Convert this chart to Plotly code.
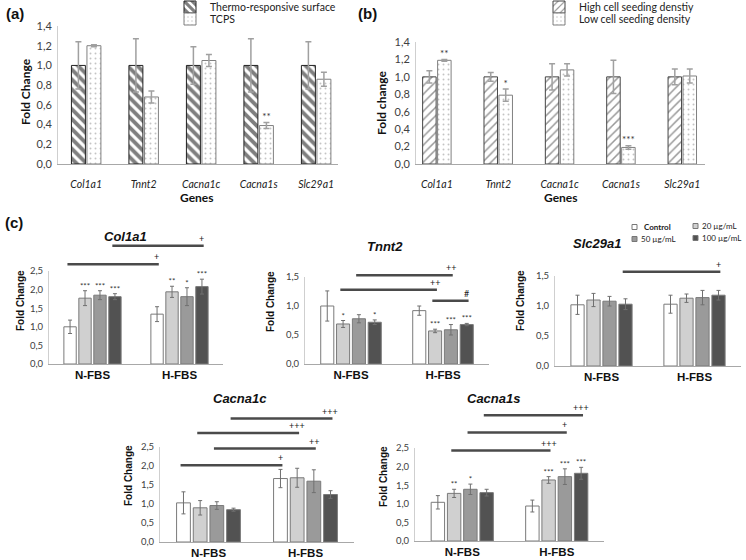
import plotly.graph_objects as go

W, H = 746, 560

# ---------------- data: panel (a) ----------------
genes = ["Col1a1", "Tnnt2", "Cacna1c", "Cacna1s", "Slc29a1"]
a_thermo = [1.00, 1.00, 1.00, 1.00, 1.00]
a_thermo_err = [0.24, 0.27, 0.19, 0.27, 0.24]
a_tcps = [1.20, 0.68, 1.05, 0.39, 0.86]
a_tcps_err = [0.01, 0.06, 0.06, 0.03, 0.07]
a_tcps_sig = ["", "", "", "**", ""]

# ---------------- data: panel (b) ----------------
b_high = [1.00, 1.00, 1.00, 1.00, 1.00]
b_high_err = [0.07, 0.05, 0.15, 0.19, 0.09]
b_low = [1.19, 0.79, 1.08, 0.19, 1.01]
b_low_err = [0.01, 0.07, 0.07, 0.02, 0.08]
b_low_sig = ["**", "*", "", "***", ""]
ab_yticks = [0.0, 0.2, 0.4, 0.6, 0.8, 1.0, 1.2, 1.4]

# ---------------- data: panel (c) ----------------
conditions = ["N-FBS", "H-FBS"]
doses = ["Control", "20 µg/mL", "50 µg/mL", "100 µg/mL"]
c_yticks_25 = [0.0, 0.5, 1.0, 1.5, 2.0, 2.5]
c_yticks_15 = [0.0, 0.5, 1.0, 1.5]

# rows = doses, columns = conditions (N-FBS, H-FBS)
col1a1_mean = [[1.00, 1.34], [1.77, 1.94], [1.85, 1.81], [1.81, 2.08]]
col1a1_err = [[0.18, 0.20], [0.20, 0.15], [0.12, 0.24], [0.08, 0.20]]
col1a1_sig = [["", ""], ["***", "**"], ["***", "*"], ["***", "***"]]
col1a1_lines = [(0, 0, 1, 0, 2.68, "+"), (0, 3, 1, 3, 3.18, "+")]

tnnt2_mean = [[1.00, 0.92], [0.69, 0.57], [0.78, 0.59], [0.72, 0.68]]
tnnt2_err = [[0.26, 0.08], [0.06, 0.03], [0.07, 0.09], [0.04, 0.02]]
tnnt2_sig = [["", ""], ["*", "***"], ["", "***"], ["*", "***"]]
tnnt2_lines = [(0, 1, 1, 1, 1.28, "++"), (0, 2, 1, 2, 1.53, "++"), (1, 1, 1, 3, 1.09, "#")]

slc29a1_mean = [[1.02, 1.03], [1.10, 1.13], [1.08, 1.14], [1.03, 1.18]]
slc29a1_err = [[0.16, 0.15], [0.11, 0.07], [0.08, 0.12], [0.09, 0.08]]
slc29a1_sig = [["", ""], ["", ""], ["", ""], ["", ""]]
slc29a1_lines = [(0, 3, 1, 3, 1.57, "+")]

cacna1c_mean = [[1.03, 1.67], [0.90, 1.69], [0.96, 1.60], [0.85, 1.25]]
cacna1c_err = [[0.29, 0.24], [0.19, 0.25], [0.10, 0.30], [0.04, 0.10]]
cacna1c_sig = [["", ""], ["", ""], ["", ""], ["", ""]]
cacna1c_lines = [(0, 0, 1, 0, 2.02, "+"), (0, 2, 1, 2, 2.46, "++"),
                 (0, 1, 1, 1, 2.87, "+++"), (0, 3, 1, 3, 3.25, "+++")]

cacna1s_mean = [[1.04, 0.94], [1.28, 1.64], [1.39, 1.73], [1.30, 1.82]]
cacna1s_err = [[0.18, 0.16], [0.11, 0.09], [0.14, 0.21], [0.09, 0.16]]
cacna1s_sig = [["", ""], ["**", "***"], ["*", "***"], ["", "***"]]
cacna1s_lines = [(0, 1, 1, 1, 2.43, "+++"), (0, 2, 1, 2, 2.92, "+"), (0, 3, 1, 3, 3.38, "+++")]

# ---------------- styling ----------------
dose_colors = ["#ffffff", "#d0d0d0", "#9a9a9a", "#525252"]
TICKF = "Lato, Carlito, sans-serif"
ARIAL = "Liberation Sans, Arial, sans-serif"

# panel geometry in pixels: x=(left,right), y=(top,bottom)
P = {
    "a": dict(n=1, xpx=(58, 338), ypx=(26, 164), xr=[-0.49, 4.38], yr=[0, 1.4]),
    "b": dict(n=2, xpx=(416, 705), ypx=(42, 164), xr=[-0.34, 4.37], yr=[0, 1.4]),
    "col1a1": dict(n=3, xpx=(49, 223), ypx=(271, 364), xr=[-0.5, 1.5], yr=[0, 2.5],
                   title="Col1a1", txy=(125, 236), fxy=(20, 301)),
    "tnnt2": dict(n=4, xpx=(305, 489), ypx=(277, 364), xr=[-0.5, 1.5], yr=[0, 1.5],
                  title="Tnnt2", txy=(385, 246), fxy=(270, 302)),
    "slc29a1": dict(n=5, xpx=(555, 741), ypx=(276, 366), xr=[-0.5, 1.5], yr=[0, 1.5],
                    title="Slc29a1", txy=(597, 243), fxy=(520, 301)),
    "cacna1c": dict(n=6, xpx=(160, 354), ypx=(447, 542), xr=[-0.5, 1.5], yr=[0, 2.5],
                    title="Cacna1c", txy=(240, 398), fxy=(128, 476)),
    "cacna1s": dict(n=7, xpx=(415, 604), ypx=(448, 541), xr=[-0.5, 1.5], yr=[0, 2.5],
                    title="Cacna1s", txy=(493, 398), fxy=(383, 477)),
}

# legend of panel (c): positions (px) of square for each dose
c_legend_pos = [(632, 227), (693, 226), (632, 239), (693, 238)]


def refs(p):
    n = p["n"]
    return ("x", "y") if n == 1 else (f"x{n}", f"y{n}")


def to_paper(p, x, y):
    l, r = p["xpx"]
    t, b = p["ypx"]
    x0, x1 = p["xr"]
    y0, y1 = p["yr"]
    px = l + (x - x0) / (x1 - x0) * (r - l)
    py = b - (y - y0) / (y1 - y0) * (b - t)
    return px / W, 1 - py / H


def pxp(px, py):
    return px / W, 1 - py / H


fig = go.Figure()


# ---------------- panel (a) & (b) ----------------
def two_bar_panel(p, vals1, err1, vals2, err2, sig2, names, styles, legends, s, w):
    xr_, yr_ = refs(p)
    for k, (vals, err, name, st, lg) in enumerate(zip([vals1, vals2], [err1, err2], names, styles, legends)):
        centre = (k - 0.5) * s
        fig.add_trace(go.Bar(
            x=list(range(len(genes))), y=vals, width=w, offset=centre - w / 2,
            name=name, legend=lg, xaxis=xr_, yaxis=yr_,
            marker=dict(color="white", line=dict(color=st["line"], width=1),
                        pattern=st["pattern"]),
            error_y=dict(type="data", array=err, color="#a0a0a0", thickness=1.5, width=3),
            hoverinfo="skip"))
    xs = [i + 0.5 * s for i in range(len(genes))]
    fig.add_trace(go.Scatter(
        x=xs, y=[v + e for v, e in zip(vals2, err2)], text=sig2, mode="text",
        textposition="top center", cliponaxis=False, showlegend=False,
        textfont=dict(size=10, color="#333", family=TICKF),
        xaxis=xr_, yaxis=yr_, hoverinfo="skip"))


hatch_a = dict(line="#222", pattern=dict(shape="\\", fgcolor="#000", bgcolor="white", size=7, solidity=0.55))
dots = dict(line="#808080", pattern=dict(shape=".", fgcolor="#8a8a8a", bgcolor="white", size=5, solidity=0.12))
hatch_b = dict(line="#444", pattern=dict(shape="/", fgcolor="#333", bgcolor="white", size=6, solidity=0.25))

two_bar_panel(P["a"], a_thermo, a_thermo_err, a_tcps, a_tcps_err, a_tcps_sig,
              ["Thermo-responsive surface", "TCPS"], [hatch_a, dots], ["legend", "legend2"], 0.27, 0.243)
two_bar_panel(P["b"], b_high, b_high_err, b_low, b_low_err, b_low_sig,
              ["High cell seeding denstiy", "Low cell seeding density"], [hatch_b, dots],
              ["legend3", "legend4"], 0.244, 0.22)

# ---------------- panel (c) ----------------
S_C, W_C = 0.172, 0.142
c_sets = [
    ("col1a1", col1a1_mean, col1a1_err, col1a1_sig, col1a1_lines),
    ("tnnt2", tnnt2_mean, tnnt2_err, tnnt2_sig, tnnt2_lines),
    ("slc29a1", slc29a1_mean, slc29a1_err, slc29a1_sig, slc29a1_lines),
    ("cacna1c", cacna1c_mean, cacna1c_err, cacna1c_sig, cacna1c_lines),
    ("cacna1s", cacna1s_mean, cacna1s_err, cacna1s_sig, cacna1s_lines),
]


def bar_centre(cond, dose):
    return cond + (dose - 1.5) * S_C


for key, mean, err, sig, lines in c_sets:
    p = P[key]
    xr_, yr_ = refs(p)
    for d in range(4):
        fig.add_trace(go.Bar(
            x=list(range(len(conditions))), y=mean[d], width=W_C,
            offset=(d - 1.5) * S_C - W_C / 2, name=doses[d], showlegend=False,
            xaxis=xr_, yaxis=yr_,
            marker=dict(color=dose_colors[d], line=dict(color="#7a7a7a", width=1)),
            error_y=dict(type="data", array=err[d], color="#707070", thickness=1, width=2),
            hoverinfo="skip"))
        fig.add_trace(go.Scatter(
            x=[bar_centre(c, d) for c in range(2)],
            y=[m + e for m, e in zip(mean[d], err[d])], text=sig[d], mode="text",
            textposition="top center", cliponaxis=False, showlegend=False,
            textfont=dict(size=8, color="#333", family=TICKF),
            xaxis=xr_, yaxis=yr_, hoverinfo="skip"))
    for ca, da, cb, db, yv, lab in lines:
        x0p, y0p = to_paper(p, bar_centre(ca, da) - 0.03, yv)
        x1p, _ = to_paper(p, bar_centre(cb, db) + 0.02, yv)
        fig.add_shape(type="line", xref="paper", yref="paper", x0=x0p, x1=x1p, y0=y0p, y1=y0p,
                      line=dict(color="#4a4a4a", width=2.5))
        fig.add_annotation(xref="paper", yref="paper", x=x1p - 2 / W, y=y0p, text=lab,
                           showarrow=False, xanchor="center", yanchor="bottom", yshift=0,
                           font=dict(size=9, color="#222222", family=TICKF))
    tx, ty = pxp(*p["txy"])
    fig.add_annotation(xref="paper", yref="paper", x=tx, y=ty, text=p["title"], showarrow=False,
                       xanchor="center", yanchor="middle",
                       font=dict(size=13, color="#111", family=ARIAL, weight="bold", style="italic"))
    fx, fy = pxp(*p["fxy"])
    fig.add_annotation(xref="paper", yref="paper", x=fx, y=fy, text="Fold Change", showarrow=False,
                       textangle=-90, xanchor="center", yanchor="middle",
                       font=dict(size=10, color="#111", family=ARIAL, weight="bold"))

# legend for panel (c): small squares + labels
for d, (lx, ly) in enumerate(c_legend_pos):
    x0, y0 = pxp(lx, ly + 2.5)
    x1, y1 = pxp(lx + 5, ly - 2.5)
    fig.add_shape(type="rect", xref="paper", yref="paper", x0=x0, x1=x1, y0=y0, y1=y1,
                  fillcolor=dose_colors[d], line=dict(color="#777", width=1))
    tx, ty = pxp(lx + (10 if d == 0 else 7), ly)
    fig.add_annotation(xref="paper", yref="paper", x=tx, y=ty, text=doses[d], showarrow=False,
                       xanchor="left", yanchor="middle",
                       font=dict(size=8, color="#222", family=TICKF,
                                 weight="bold" if d == 0 else "normal"))

# ---------------- axes ----------------
layout_axes = {}
for key, p in P.items():
    n = p["n"]
    sx = "xaxis" if n == 1 else f"xaxis{n}"
    sy = "yaxis" if n == 1 else f"yaxis{n}"
    yref_ = "y" if n == 1 else f"y{n}"
    xref_ = "x" if n == 1 else f"x{n}"
    l, r = p["xpx"]
    t, b = p["ypx"]
    if key in ("a", "b"):
        xt = dict(tickvals=list(range(len(genes))), ticktext=genes,
                  tickfont=dict(size=10.5, color="#222", family=TICKF, style="italic"),
                  ticklabelstandoff=10)
        yticks = ab_yticks
        yfont = dict(size=11, color="#404040", family=TICKF)
    else:
        xt = dict(tickvals=list(range(len(conditions))), ticktext=conditions,
                  tickfont=dict(size=11.5, color="#111", family=ARIAL, weight="bold"),
                  ticklabelstandoff=0)
        yticks = c_yticks_25 if p["yr"][1] > 2 else c_yticks_15
        yfont = dict(size=9.5, color="#404040", family=TICKF)
    layout_axes[sx] = dict(domain=[l / W, r / W], range=p["xr"], anchor=yref_, showgrid=False,
                           zeroline=False, showline=True, linecolor="#a8a8a8", linewidth=1,
                           ticks="", fixedrange=True, **xt)
    layout_axes[sy] = dict(domain=[1 - b / H, 1 - t / H], range=p["yr"], anchor=xref_,
                           showgrid=False, zeroline=False, showline=True, linecolor="#cfcfcf",
                           linewidth=1, ticks="", tickvals=yticks, tickformat=".1f",
                           tickfont=yfont, ticklabelstandoff=3, fixedrange=True)


# ---------------- text labels ----------------
def ann(px, py, text, size, family, weight="normal", angle=0, style="normal", anchor="center"):
    x, y = pxp(px, py)
    fig.add_annotation(xref="paper", yref="paper", x=x, y=y, text=text, showarrow=False,
                       textangle=angle, xanchor=anchor, yanchor="middle",
                       font=dict(size=size, color="#111", family=family, weight=weight, style=style))


ann(4, 13, "(a)", 15, ARIAL, "bold", anchor="left")
ann(356, 13, "(b)", 15, ARIAL, "bold", anchor="left")
ann(3, 223, "(c)", 15, ARIAL, "bold", anchor="left")
ann(26, 92, "Fold Change", 12, TICKF, "bold", angle=-90)
ann(381, 103, "Fold change", 12, TICKF, "bold", angle=-90)
ann(197, 197, "Genes", 12, TICKF, "bold")
ann(561, 197, "Genes", 12, TICKF, "bold")


# ---------------- legends (a), (b) ----------------
def leg(px, py, size):
    x, y = pxp(px, py)
    return dict(x=x, y=y, xanchor="left", yanchor="middle", bgcolor="rgba(0,0,0,0)",
                borderwidth=0, font=dict(size=size, color="#222", family=TICKF),
                orientation="v", itemwidth=30, tracegroupgap=0, itemclick=False,
                itemdoubleclick=False)


fig.update_layout(
    width=W, height=H, margin=dict(l=0, r=0, t=0, b=0, autoexpand=False),
    paper_bgcolor="white", plot_bgcolor="white",
    barmode="overlay", separators=",.",
    showlegend=True,
    legend=leg(170, 7, 10.5),
    legend2=leg(170, 19, 10.5),
    legend3=leg(539, 7, 10.5),
    legend4=leg(539, 19, 10.5),
    **layout_axes,
)

# the page body has a default 8px margin; remove it so the figure sits at the window origin
fig.write_html("out.html", config={"displayModeBar": False, "staticPlot": True},
               post_script="document.body.style.margin='0';")
